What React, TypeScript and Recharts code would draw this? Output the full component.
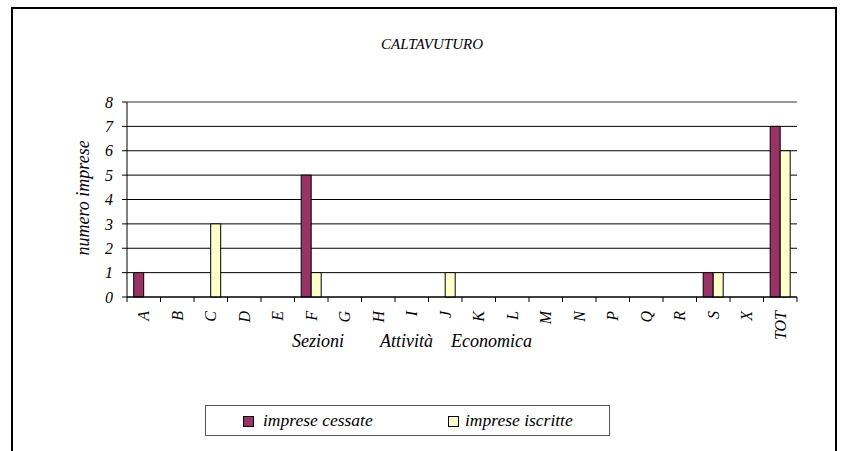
import { Bar, BarChart, CartesianGrid, Legend, ReferenceLine, XAxis, YAxis } from "recharts";

const sezioni = ["A", "B", "C", "D", "E", "F", "G", "H", "I", "J", "K", "L", "M", "N", "P", "Q", "R", "S", "X", "TOT"];
const cessate = [1, 0, 0, 0, 0, 5, 0, 0, 0, 0, 0, 0, 0, 0, 0, 0, 0, 1, 0, 7];
const iscritte = [0, 0, 3, 0, 0, 1, 0, 0, 0, 1, 0, 0, 0, 0, 0, 0, 0, 1, 0, 6];
const yTicks = [0, 1, 2, 3, 4, 5, 6, 7, 8];

const data = sezioni.map((s, i) => ({ sezione: s, cessate: cessate[i], iscritte: iscritte[i] }));

const FONT = "Liberation Serif";
const PLOT_W = 670;
const STEP = PLOT_W / sezioni.length;

function XTick(props: any) {
  const { x, y, payload, index } = props;
  const last = index === sezioni.length - 1;
  return (
    <g>
      <line x1={x - STEP / 2} y1={y - 5} x2={x - STEP / 2} y2={y} stroke="#000" />
      {last ? <line x1={x + STEP / 2} y1={y - 5} x2={x + STEP / 2} y2={y} stroke="#000" /> : null}
      <g transform={`translate(${x},${y})`}>
        <text
          transform="rotate(-90)"
          x={-9}
          y={0}
          dy="0.35em"
          textAnchor="end"
          fontFamily={FONT}
          fontStyle="italic"
          fontSize={16}
          fill="#000"
        >
          {payload.value}
        </text>
      </g>
    </g>
  );
}

function LegendBox() {
  return (
    <div
      style={{
        width: 405,
        height: 31,
        border: "1px solid #555",
        boxSizing: "border-box",
        fontFamily: FONT,
        fontStyle: "italic",
        fontSize: 17.5,
        position: "relative",
        background: "#fff"
      }}
    >
      <span style={{ position: "absolute", left: 37, top: 10, width: 9, height: 9, background: "#993366", border: "1px solid #000" }} />
      <span style={{ position: "absolute", left: 57, top: 5, lineHeight: "18px" }}>imprese cessate</span>
      <span style={{ position: "absolute", left: 242, top: 10, width: 9, height: 9, background: "#FFFFCC", border: "1px solid #000" }} />
      <span style={{ position: "absolute", left: 259, top: 5, lineHeight: "18px" }}>imprese iscritte</span>
    </div>
  );
}

export default function App() {
  return (
    <div style={{ position: "absolute", left: 0, top: 0, width: 841, height: 451, background: "#fff", overflow: "hidden" }}>
      <div
        style={{
          position: "absolute",
          left: 11,
          top: 7,
          width: 826,
          height: 460,
          border: "2px solid #000",
          boxSizing: "border-box"
        }}
      />
      <div
        style={{
          position: "absolute",
          left: 0,
          top: 36,
          width: 864,
          textAlign: "center",
          fontFamily: FONT,
          fontStyle: "italic",
          fontSize: 15
        }}
      >
        CALTAVUTURO
      </div>
      <div style={{ position: "absolute", left: 0, top: 0 }}>
        <BarChart
          width={841}
          height={451}
          data={data}
          margin={{ top: 102, right: 44, left: 67, bottom: 109 }}
          barCategoryGap="20%"
          barGap={0}
        >
          <CartesianGrid vertical={false} stroke="#000" strokeWidth={1} />
          <XAxis
            dataKey="sezione"
            height={45}
            interval={0}
            axisLine={{ stroke: "#000" }}
            tickLine={false}
            tickSize={5}
            tickMargin={0}
            tick={<XTick />}
          />
          <YAxis
            width={60}
            domain={[0, 8]}
            ticks={yTicks}
            interval={0}
            axisLine={{ stroke: "#000" }}
            tickLine={{ stroke: "#000" }}
            tickSize={5}
            tickMargin={9}
            tick={{ fill: "#000", fontFamily: FONT, fontStyle: "italic", fontSize: 16 }}
            label={{
              value: "numero imprese",
              angle: -90,
              position: "insideLeft",
              offset: 16,
              dy: 56,
              style: { fontFamily: FONT, fontStyle: "italic", fontSize: 18, fill: "#000" }
            }}
          />
          <YAxis
            yAxisId="r"
            orientation="right"
            width={0}
            domain={[0, 8]}
            tick={false}
            tickLine={false}
            axisLine={{ stroke: "#999", strokeWidth: 2 }}
          />
          <ReferenceLine y={8} stroke="#999" strokeWidth={2} />
          <Bar dataKey="cessate" name="imprese cessate" fill="#993366" stroke="#000" strokeWidth={1} isAnimationActive={false} />
          <Bar dataKey="iscritte" name="imprese iscritte" fill="#FFFFCC" stroke="#000" strokeWidth={1} isAnimationActive={false} />
          <Legend
            content={<LegendBox />}
            layout="horizontal"
            verticalAlign="middle"
            align="center"
            wrapperStyle={{ position: "absolute", left: 205, top: 405, width: 405, height: 31 }}
          />
        </BarChart>
      </div>
      <div
        style={{
          position: "absolute",
          left: 0,
          top: 331,
          width: 841,
          height: 22,
          fontFamily: FONT,
          fontStyle: "italic",
          fontSize: 18
        }}
      >
        <span style={{ position: "absolute", left: 292 }}>Sezioni</span>
        <span style={{ position: "absolute", left: 380 }}>Attività</span>
        <span style={{ position: "absolute", left: 451 }}>Economica</span>
      </div>
    </div>
  );
}
